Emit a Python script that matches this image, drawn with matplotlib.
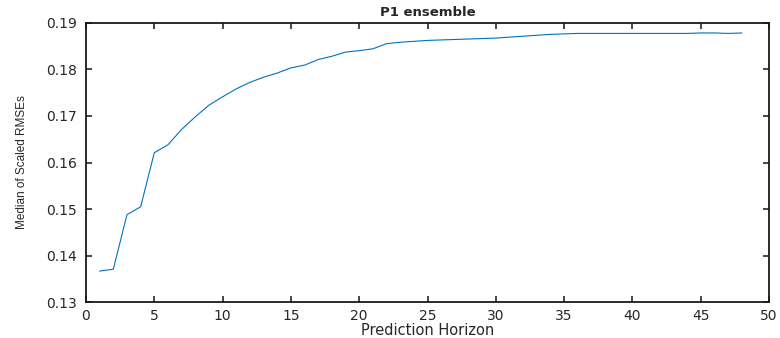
import matplotlib
matplotlib.use("Agg")
import matplotlib.pyplot as plt

horizon = list(range(1, 49))
median_rmse = [0.1367, 0.1371, 0.1488, 0.1505, 0.1621, 0.1638, 0.1671, 0.1698,
               0.1723, 0.1741, 0.1758, 0.1772, 0.1783, 0.1792, 0.1803, 0.1809,
               0.1821, 0.1828, 0.1837, 0.1840, 0.1844, 0.1855, 0.1858, 0.1860,
               0.1862, 0.1863, 0.1864, 0.1865, 0.1866, 0.1867, 0.1869, 0.1871,
               0.1873, 0.1875, 0.1876, 0.1877, 0.1877, 0.1877, 0.1877, 0.1877,
               0.1877, 0.1877, 0.1877, 0.1877, 0.1878, 0.1878, 0.1877, 0.1878]
xticks = [0, 5, 10, 15, 20, 25, 30, 35, 40, 45, 50]
yticks = [0.13, 0.14, 0.15, 0.16, 0.17, 0.18, 0.19]

plt.rcParams['font.family'] = ['DejaVu Sans']

fig = plt.figure(figsize=(7.8, 3.38), dpi=100)
ax = fig.add_axes([86/780, 1 - 302.3/338, (769-86)/780, (302.3-22.7)/338])
ax.plot(horizon, median_rmse, color='#0072BD', linewidth=0.8)
ax.set_xlim(0, 50)
ax.set_ylim(0.13, 0.19)
ax.set_xticks(xticks)
ax.set_xticklabels([str(t) for t in xticks])
ax.set_yticks(yticks)
ax.set_yticklabels([f"{t:.2f}" for t in yticks])
ax.tick_params(direction='in', top=True, right=True, length=4, width=1.2,
               labelsize=10, colors='#262626')
ax.tick_params(axis='y', pad=6.5)
ax.tick_params(axis='x', pad=5)
for s in ax.spines.values():
    s.set_linewidth(1.3)
    s.set_color('#1a1a1a')
ax.set_xlabel('Prediction Horizon', fontsize=10.5, color='#262626', labelpad=0)
ax.set_ylabel('Median of Scaled RMSEs', fontsize=8.5, color='#262626',
              labelpad=13, family=['Liberation Sans', 'DejaVu Sans'])
ax.set_title('P1 ensemble', fontsize=9.5, fontweight='bold', color='#262626', pad=5)
fig.savefig('out.png', dpi=100)
